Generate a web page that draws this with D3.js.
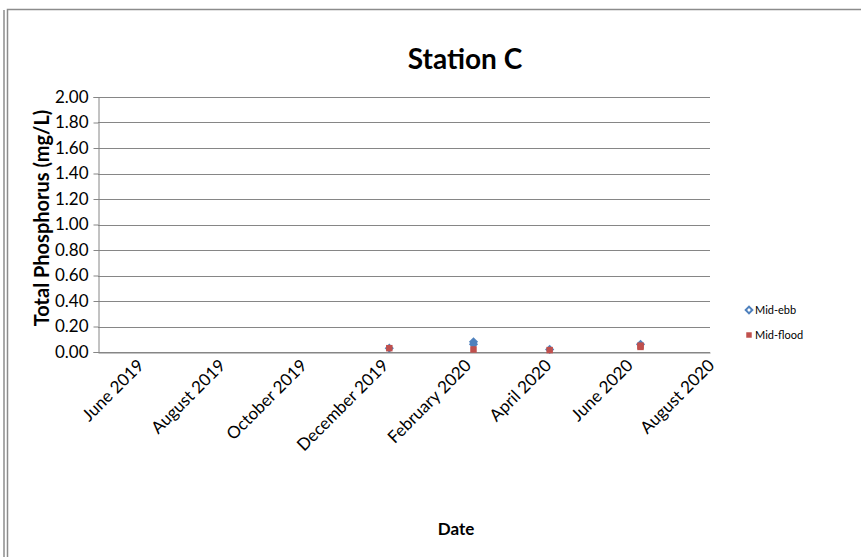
<!DOCTYPE html>
<html><head><meta charset="utf-8">
<script src="https://cdn.jsdelivr.net/npm/d3@7"></script>
<style>body{margin:0;background:#fff}svg{display:block}text{font-family:Lato,"Open Sans",sans-serif}</style>
</head><body><svg id="c" width="861" height="557"></svg>
<script>
const yTicks = [0,0.2,0.4,0.6,0.8,1.0,1.2,1.4,1.6,1.8,2.0];
const xTickLabels = ["June 2019","August 2019","October 2019","December 2019","February 2020","April 2020","June 2020","August 2020"];
const xTickDates = ["2019-06-01","2019-08-01","2019-10-01","2019-12-01","2020-02-01","2020-04-01","2020-06-01","2020-08-01"];
const ebbDates = ["2019-12-05","2020-02-06","2020-02-06","2020-04-03","2020-06-10"];
const ebbValues = [0.03,0.08,0.06,0.02,0.06];
const floodDates = ["2019-12-05","2020-02-06","2020-04-03","2020-06-10","2020-06-10"];
const floodValues = [0.03,0.02,0.015,0.05,0.04];
const seriesNames = ["Mid-ebb","Mid-flood"];

const svg = d3.select("#c");
const pt = d3.utcParse("%Y-%m-%d");
const L=98,R=710,T=97,B=352;
const x = d3.scaleUtc().domain([pt("2019-05-01"),pt("2020-08-01")]).range([L,R]);
const y = d3.scaleLinear().domain([0,2]).range([B,T]);

// frame
svg.append("line").attr("x1",4).attr("x2",4).attr("y1",10).attr("y2",557).attr("stroke","#8c8c8c").attr("stroke-width",1.5);
svg.append("rect").attr("x",7.5).attr("y",9.5).attr("width",870).attr("height",560).attr("fill","none").attr("stroke","#8c8c8c").attr("stroke-width",1.5);

// grid
svg.append("g").selectAll("line").data(yTicks).join("line")
 .attr("x1",L).attr("x2",R).attr("y1",d=>Math.round(y(d))+0.5).attr("y2",d=>Math.round(y(d))+0.5)
 .attr("stroke","#868686").attr("stroke-width",1);

const ya = svg.append("g").attr("transform",`translate(${L+0.5},0)`)
 .call(d3.axisLeft(y).tickValues(yTicks).tickFormat(d3.format(".2f")).tickSize(5).tickPadding(5));
ya.select(".domain").attr("stroke","#868686");
ya.selectAll(".tick line").attr("stroke","#868686");
ya.selectAll("text").attr("font-size",17).attr("fill","#000").style("font-family","Lato");

const xa = svg.append("g").attr("transform",`translate(0,${B+0.5})`)
 .call(d3.axisBottom(x).tickValues(xTickDates.map(pt)).tickFormat((d,i)=>xTickLabels[i]).tickSize(0));
xa.select(".domain").attr("stroke","#868686");
xa.selectAll("text").attr("font-size",17).attr("fill","#000").style("font-family","Lato")
 .attr("text-anchor","end").attr("dy",null).attr("y",0)
 .attr("transform","translate(5,14) rotate(-45)");

// title
svg.append("text").attr("x",465).attr("y",69).attr("text-anchor","middle").attr("font-size",28).attr("font-weight","bold").text("Station C");
svg.append("text").attr("transform","translate(49,218) rotate(-90)").attr("text-anchor","middle").attr("font-size",20).attr("font-weight","bold").text("Total Phosphorus (mg/L)");
svg.append("text").attr("x",456).attr("y",535).attr("text-anchor","middle").attr("font-size",17).attr("font-weight","bold").text("Date");

// points
const blue="#4F81BD", red="#C0504D";
svg.append("g").selectAll("path").data(ebbDates.map((d,i)=>[pt(d),ebbValues[i]])).join("path")
 .attr("transform",d=>`translate(${x(d[0])},${y(d[1])}) rotate(45)`)
 .attr("d",d3.symbol(d3.symbolSquare,42)).attr("fill",blue);
svg.append("g").selectAll("path").data(floodDates.map((d,i)=>[pt(d),floodValues[i]])).join("path")
 .attr("transform",d=>`translate(${x(d[0])},${y(d[1])})`)
 .attr("d",d3.symbol(d3.symbolSquare,42)).attr("fill",red);

// legend
const lg = svg.append("g");
lg.append("path").attr("transform","translate(749,310) rotate(45)").attr("d",d3.symbol(d3.symbolSquare,22)).attr("fill","#fff").attr("stroke",blue).attr("stroke-width",2);
lg.append("path").attr("transform","translate(749,335)").attr("d",d3.symbol(d3.symbolSquare,30)).attr("fill",red);
lg.append("text").attr("x",755).attr("y",314).attr("font-size",11).text(seriesNames[0]);
lg.append("text").attr("x",755).attr("y",339).attr("font-size",11).text(seriesNames[1]);
</script></body></html>
